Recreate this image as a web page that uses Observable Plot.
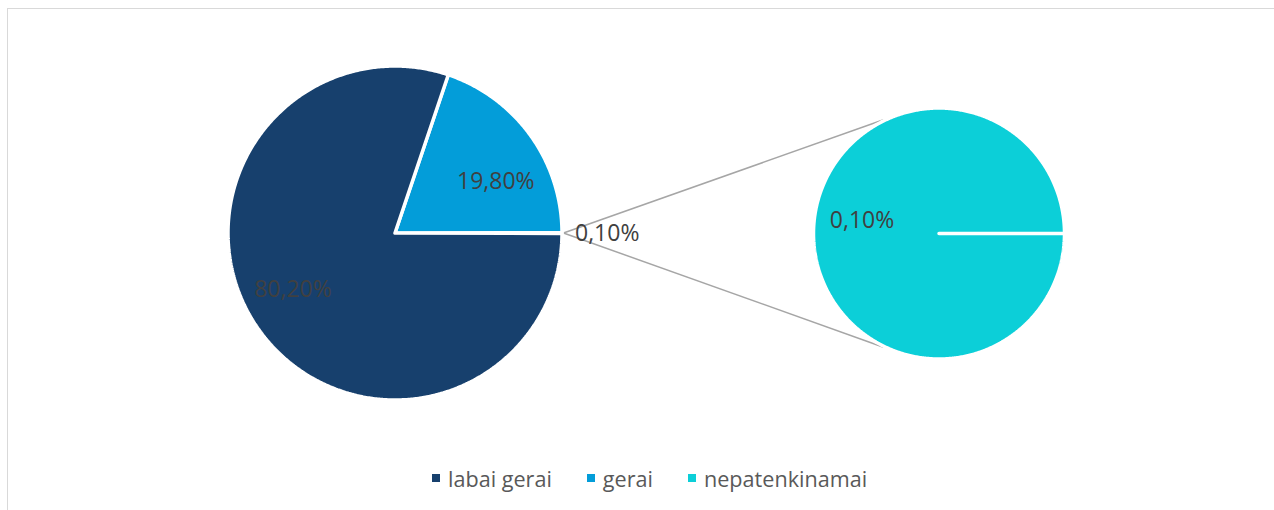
<!DOCTYPE html>
<html>
<head>
<meta charset="utf-8">
<script src="https://cdn.jsdelivr.net/npm/d3@7"></script>
<script src="https://cdn.jsdelivr.net/npm/@observablehq/plot@0.6"></script>
<style>
  body { margin: 0; background: #fff; font-family: "Open Sans", sans-serif; }
  #wrap { position: relative; width: 1274px; height: 510px; overflow: hidden; }
  #frame { position: absolute; left: 7px; top: 8px; width: 1275px; height: 520px;
           border-top: 1.5px solid #d9d9d9; border-left: 1.5px solid #d9d9d9; }
  #chart { position: absolute; left: 0; top: 0; }
  #legend { position: absolute; left: 432px; top: 463px; height: 30px; display: flex; align-items: center;
            font-size: 21.6px; color: #595959; white-space: nowrap; }
  .item { display: flex; align-items: center; margin-right: 35px; }
  .sw { width: 8px; height: 8px; margin-right: 8px; }
</style>
</head>
<body>
<div id="wrap">
  <div id="frame"></div>
  <div id="chart"></div>
  <div id="legend"></div>
</div>
<script>
// ---- data ----
const categories = ["labai gerai", "gerai", "nepatenkinamai"];
const values = [80.2, 19.8, 0.1];
const valueLabels = ["80,20%", "19,80%", "0,10%"];
const colors = ["#17406d", "#039dd9", "#0ccfd8"];
const secondCategories = ["nepatenkinamai"];
const secondValues = [0.1];
const secondLabels = ["0,10%"];

// ---- layout ----
const W = 1274, H = 455;
const main = {cx: 394.5, cy: 232.5, r: 167};
const sub = {cx: 938.5, cy: 233, r: 125.5};
const rad = d => d * Math.PI / 180;
const pt = (c, r, deg) => [c.cx + r * Math.cos(rad(deg)), c.cy - r * Math.sin(rad(deg))];

// slices drawn counter-clockwise from 3 o'clock
function buildSlices(c, cats, vals, order, startDeg) {
  const total = d3.sum(vals);
  let a = startDeg;
  const polys = [], info = {};
  for (const cat of order) {
    const v = vals[cats.indexOf(cat)];
    const span = v / total * 360;
    const a0 = a, a1 = a + span;
    const n = Math.max(2, Math.ceil(span / 0.5));
    polys.push({cat, x: c.cx, y: c.cy});
    for (let i = 0; i <= n; i++) {
      const [x, y] = pt(c, c.r, a0 + (a1 - a0) * i / n);
      polys.push({cat, x, y});
    }
    polys.push({cat, x: c.cx, y: c.cy});
    info[cat] = {a0, a1, mid: (a0 + a1) / 2};
    a = a1;
  }
  return {polys, info};
}

const mainOrder = ["nepatenkinamai", "gerai", "labai gerai"];
const otherSpan = values[2] / d3.sum(values) * 360;
const M = buildSlices(main, categories, values, mainOrder, -otherSpan / 2);
const S = buildSlices(sub, secondCategories, secondValues, secondCategories, 0);
const subPolys = S.polys.map(d => ({...d, key: "sub-" + d.cat}));
const mainPolys = M.polys.map(d => ({...d, key: "main-" + d.cat}));

// connector lines
const startPt = pt(main, main.r + 1.5, 0);
const connectors = [116, -116].map(deg => {
  const [x2, y2] = pt(sub, sub.r + 1, deg);
  return {x1: startPt[0], y1: startPt[1], x2, y2};
});

// labels
const nudges = {"labai gerai": [-7, -11], "gerai": [6, 17]};
const insideLabels = ["labai gerai", "gerai"].map(cat => {
  const [x, y] = pt(main, main.r * 0.7, M.info[cat].mid);
  return {text: valueLabels[categories.indexOf(cat)], x: x + nudges[cat][0], y: y + nudges[cat][1]};
});
const outsideLabel = [{text: valueLabels[2], x: main.cx + main.r + 13, y: main.cy + 0.5}];
const subLabel = [{text: secondLabels[0], x: sub.cx - sub.r * 0.87, y: sub.cy - 13}];

const chart = Plot.plot({
  width: W, height: H,
  margin: 0,
  x: {domain: [0, W], axis: null},
  y: {domain: [H, 0], axis: null},
  color: {domain: categories, range: colors},
  style: {fontFamily: "Open Sans, sans-serif", background: "transparent"},
  marks: [
    Plot.link(connectors, {x1: "x1", y1: "y1", x2: "x2", y2: "y2", stroke: "#a6a6a6", strokeWidth: 1.5}),
    Plot.line(mainPolys, {x: "x", y: "y", z: "key", fill: "cat", stroke: "white", strokeWidth: 3.5, strokeLinejoin: "miter"}),
    Plot.line(subPolys, {x: "x", y: "y", z: "key", fill: "cat", stroke: "white", strokeWidth: 3.5, strokeLinejoin: "miter"}),
    Plot.text(insideLabels, {x: "x", y: "y", text: "text", fill: "#404040", fontSize: 23}),
    Plot.text(outsideLabel, {x: "x", y: "y", text: "text", fill: "#404040", fontSize: 23, textAnchor: "start"}),
    Plot.text(subLabel, {x: "x", y: "y", text: "text", fill: "#404040", fontSize: 23, textAnchor: "start"})
  ]
});
document.getElementById("chart").appendChild(chart);

// legend
const legend = document.getElementById("legend");
categories.forEach((cat, i) => {
  const item = document.createElement("div");
  item.className = "item";
  const sw = document.createElement("span");
  sw.className = "sw";
  sw.style.background = colors[i];
  const t = document.createElement("span");
  t.textContent = cat;
  item.appendChild(sw); item.appendChild(t);
  legend.appendChild(item);
});
</script>
</body>
</html>
